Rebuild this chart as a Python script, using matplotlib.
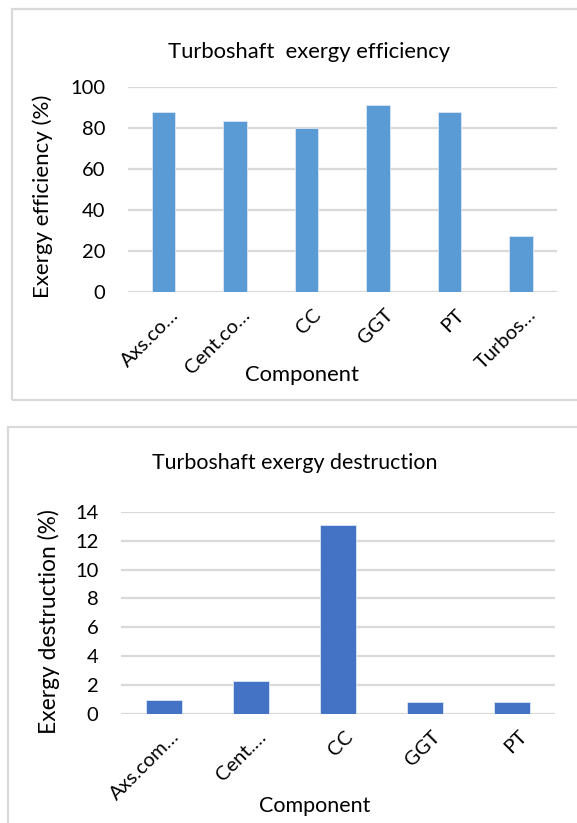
import numpy as np
import matplotlib.pyplot as plt
from matplotlib.patches import Rectangle
from matplotlib.transforms import ScaledTranslation

plt.rcParams['font.family'] = ['Lato', 'DejaVu Sans']

# exergy efficiency per component (%)
eff_labels = ["Axs.co…", "Cent.co…", "CC", "GGT", "PT", "Turbos…"]
eff_values = [87.7, 83.3, 80.1, 90.9, 87.7, 27.2]
eff_ticks = [0, 20, 40, 60, 80, 100]

# exergy destruction per component (%)
des_labels = ["Axs.com…", "Cent.…", "CC", "GGT", "PT"]
des_values = [0.97, 2.27, 13.08, 0.79, 0.79]
des_ticks = [0, 2, 4, 6, 8, 10, 12, 14]

W, H = 577, 823
GRID = "#d9d9d9"


def fx(px):
    return px / W


def fy(py):
    return 1 - py / H


def bar_panel(fig, rect, labels, values, ticks, color, width):
    ax = fig.add_axes(rect)
    x = np.arange(len(labels))
    ax.bar(x, values, width=width, color=color, edgecolor="#dbe6f4", linewidth=0.6, zorder=3)
    ax.set_xlim(-0.5, len(labels) - 0.5)
    ax.set_ylim(ticks[0], ticks[-1])
    ax.set_yticks(ticks)
    ax.set_xticks(x)
    ax.set_xticklabels(labels, rotation=45, ha="right", va="top", rotation_mode="anchor", fontsize=14.5)
    ax.tick_params(length=0, labelsize=14.5)
    ax.tick_params(axis="y", pad=16)
    ax.tick_params(axis="x", pad=10)
    shift = ScaledTranslation(0.06, 0, fig.dpi_scale_trans)
    for lbl in ax.get_xticklabels():
        lbl.set_transform(lbl.get_transform() + shift)
    ax.grid(axis="y", color=GRID, linewidth=1.6, zorder=0)
    for s in ax.spines.values():
        s.set_visible(False)
    ax.patch.set_alpha(0)
    return ax


fig = plt.figure(figsize=(W / 100, H / 100), dpi=100)

# chart frames
fig.patches.append(Rectangle((fx(12), fy(399.5)), fx(600) - fx(12), fy(9) - fy(399.5),
                             transform=fig.transFigure, fill=False, edgecolor=GRID, linewidth=1.6))
fig.patches.append(Rectangle((fx(8), fy(900)), fx(600) - fx(8), fy(427) - fy(900),
                             transform=fig.transFigure, fill=False, edgecolor=GRID, linewidth=1.6))

# top chart
bar_panel(fig, [fx(127.7), fy(292.3), fx(556.7) - fx(127.7), fy(86.7) - fy(292.3)],
          eff_labels, eff_values, eff_ticks, "#5b9bd5", 0.33)
fig.text(fx(309), fy(52), "Turboshaft  exergy efficiency", ha="center", va="center", fontsize=15.8)
fig.text(fx(43), fy(196), "Exergy efficiency (%)", ha="center", va="center", rotation=90, fontsize=16)
fig.text(fx(302), fy(375), "Component", ha="center", va="center", fontsize=15.8)

# bottom chart
bar_panel(fig, [fx(120.7), fy(713.7), fx(555.3) - fx(120.7), fy(512) - fy(713.7)],
          des_labels, des_values, des_ticks, "#4472c4", 0.41)
fig.text(fx(295), fy(463), "Turboshaft exergy destruction", ha="center", va="center", fontsize=15.4)
fig.text(fx(49), fy(622), "Exergy destruction (%)", ha="center", va="center", rotation=90, fontsize=16.4)
fig.text(fx(315), fy(806), "Component", ha="center", va="center", fontsize=15.5)

fig.savefig("out.png", dpi=100)
